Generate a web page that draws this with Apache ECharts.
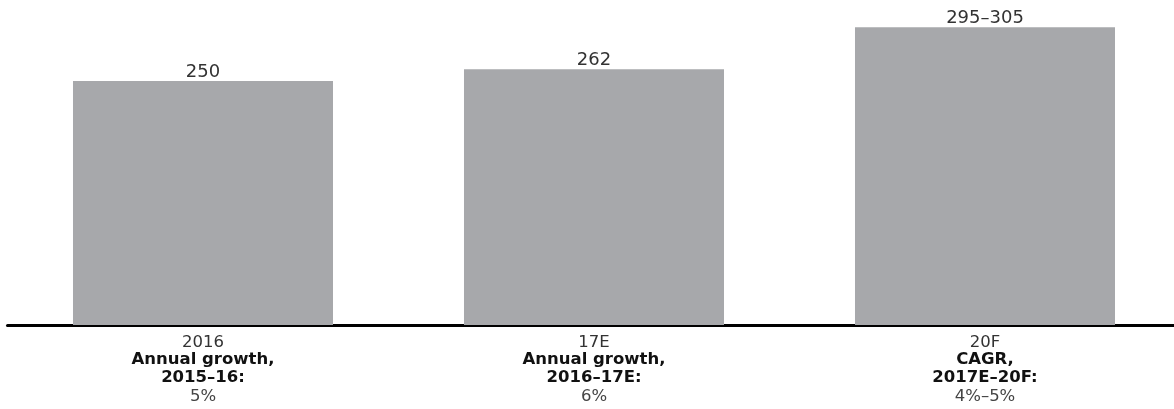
<!DOCTYPE html>
<html>
<head>
<meta charset="utf-8">
<script src="https://cdn.jsdelivr.net/npm/echarts@6/dist/echarts.min.js"></script>
<style>
  html, body { margin: 0; padding: 0; background: #ffffff; overflow: hidden; }
  #chart { width: 1174px; height: 409px; }
</style>
</head>
<body>
<div id="chart"></div>
<script>
// Market size by year, with growth notes under each bar
const categories = ['2016', '17E', '20F'];
const values = [250, 262, 305];
const valueLabels = ['250', '262', '295–305'];
const growthTitles = ['Annual growth,', 'Annual growth,', 'CAGR,'];
const growthPeriods = ['2015–16:', '2016–17E:', '2017E–20F:'];
const growthRates = ['5%', '6%', '4%–5%'];

const FONT = '"DejaVu Sans", sans-serif';

const chart = echarts.init(document.getElementById('chart'), null, { renderer: 'canvas' });

chart.setOption({
  animation: false,
  backgroundColor: '#ffffff',
  grid: {
    left: 7.5, width: 1173, top: 0, height: 325,
    containLabel: false,
    outerBoundsMode: 'none'
  },
  xAxis: {
    type: 'category',
    data: categories,
    axisLine: { show: true, lineStyle: { color: '#000000', width: 3 } },
    axisTick: { show: false },
    axisLabel: {
      margin: 9,
      interval: 0,
      formatter: function (value, idx) {
        return '{yr|' + value + '}\n{hd|' + growthTitles[idx] + '}\n{hd|' +
          growthPeriods[idx] + '}\n{rt|' + growthRates[idx] + '}';
      },
      rich: {
        yr: { fontFamily: FONT, fontSize: 16.5, color: '#333333', lineHeight: 17 },
        hd: { fontFamily: FONT, fontSize: 16.5, fontWeight: 'bold', color: '#111111', lineHeight: 18 },
        rt: { fontFamily: FONT, fontSize: 16.5, color: '#444444', lineHeight: 20 }
      }
    }
  },
  yAxis: {
    type: 'value',
    min: 0,
    max: 333,
    show: false,
    splitLine: { show: false }
  },
  series: [{
    type: 'bar',
    data: values,
    barWidth: '66.5%',
    itemStyle: { color: '#a7a8ab' },
    label: {
      show: true,
      position: 'top',
      distance: 0,
      fontFamily: FONT,
      fontSize: 18,
      color: '#333333',
      formatter: function (p) { return valueLabels[p.dataIndex]; }
    }
  }]
});
</script>
</body>
</html>
